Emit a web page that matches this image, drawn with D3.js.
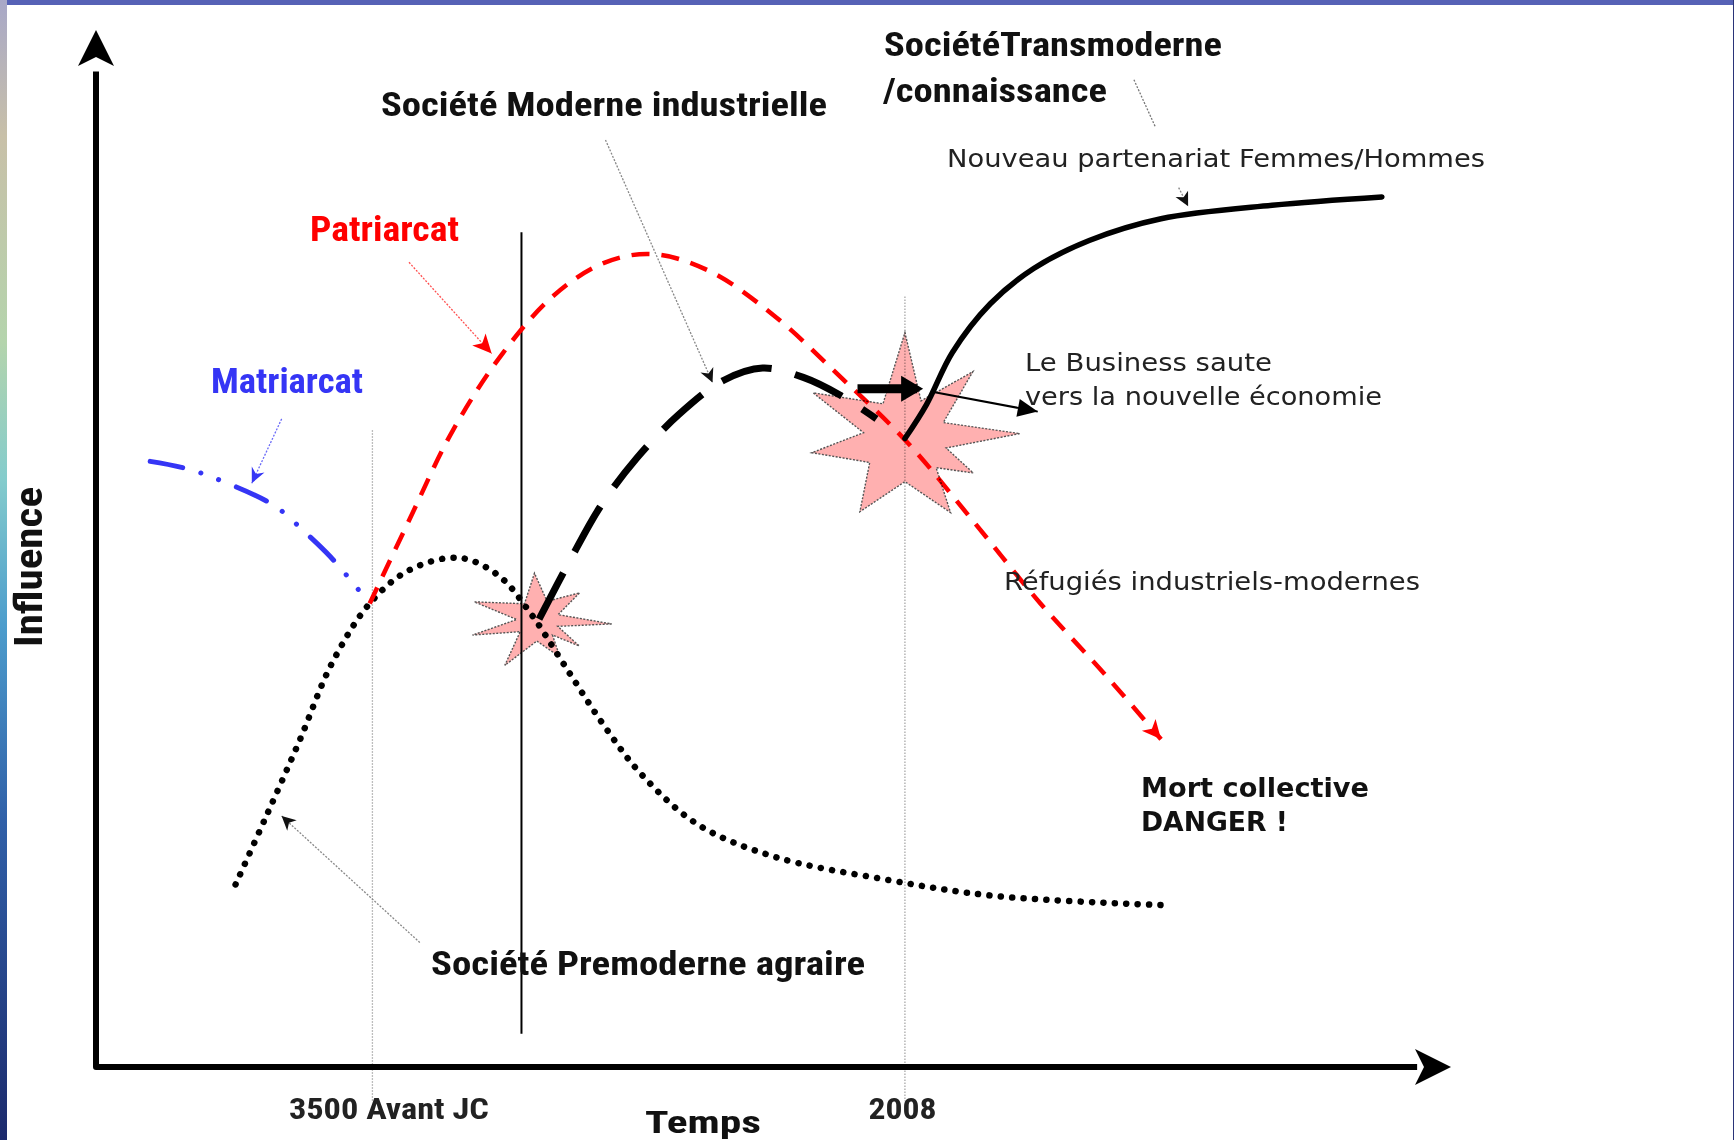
<!DOCTYPE html>
<html>
<head>
<meta charset="utf-8">
<script src="https://cdn.jsdelivr.net/npm/d3@7"></script>
<style>
    html, body { margin: 0; padding: 0; background: #4a58aa; overflow: hidden; }
    svg { display: block; }
    .narrow { font-family: "Liberation Sans Narrow", "Arial Narrow", "Roboto Condensed", "DejaVu Sans Condensed", sans-serif; font-weight: bold; }
    .verd { font-family: "DejaVu Sans", Verdana, sans-serif; }
</style>
</head>
<body>
<div id="chart"></div>
<script>
// curves (time index 0-100, influence 0-100)
const matriarcat = [[4.0,58.4],[6.7,57.7],[9.5,56.4],[13.2,54.1],[15.4,51.6],[17.3,49.2],[19.2,46.3],[20.1,44.8]];
const patriarcat = [[20.2,44.7],[23.1,52.7],[26.3,61.3],[30.0,68.8],[33.7,74.3],[37.4,77.5],[41.0,78.4],[45.2,76.8],
    [50.0,72.5],[54.9,66.6],[59.9,60.2],[64.7,52.7],[69.7,44.7],[74.5,37.8],[78.6,31.6]];
const premoderne = [[10.3,17.6],[12.5,24.0],[15.0,31.4],[17.4,38.9],[20.2,44.7],[23.1,47.9],[26.8,49.1],[29.7,47.4],
    [32.1,43.7],[34.5,38.9],[37.4,33.1],[40.2,28.3],[44.4,23.4],[50.0,20.3],[58.2,18.1],[66.3,16.5],[79.0,15.6]];
const moderne = [[32.7,43.2],[35.0,48.9],[37.2,54.0],[39.9,58.7],[43.0,62.9],[46.3,66.2],[49.2,67.4],
    [52.2,66.5],[54.9,64.8],[57.6,62.5]];
const transmoderne = [[59.7,60.6],[61.3,63.9],[63.2,68.9],[66.0,73.6],[69.2,77.0],[73.3,79.7],[78.6,81.8],[86.8,83.1],[94.9,83.9]];

// time markers on the x axis
const eraLabels = ["3500 Avant JC", "2008"];
const eraX = [20.4, 59.7];
const ruptureX = 31.4;

// crisis points (starbursts): centre and outer tips [angle deg, radius]
const crisisCentres = [[32.6, 43.1], [59.7, 60.5]];
const crisisTips = [
    [[3,74],[32,49],[59,43],[126,56],[167,67],[196,66],[266,47],[327,50]],
    [[26,76],[58,86],[122,85],[172,94],[207,103],[270,107],[315,96],[357,115]]
];
const crisisInner = [21, 42];

const W = 1734, H = 1140;
const x = d3.scaleLinear().domain([0, 100]).range([96, 1451]);
const y = d3.scaleLinear().domain([0, 100]).range([1067, 30]);

const svg = d3.select('#chart').append('svg').attr('width', W).attr('height', H);
const defs = svg.append('defs');

// frame (textured slide border)
const lg = defs.append('linearGradient').attr('id', 'leftStrip')
    .attr('x1', 0).attr('y1', 0).attr('x2', 0).attr('y2', 1);
[[0,'#a8a8c8'],[0.12,'#c8c0a8'],[0.3,'#b4d4ac'],[0.42,'#84cccc'],[0.55,'#4c9ccc'],[0.72,'#3060a8'],[1,'#1c2a6c']]
    .forEach(s => lg.append('stop').attr('offset', s[0]).attr('stop-color', s[1]));
svg.append('rect').attr('width', W).attr('height', H).attr('fill', '#5662b6');
svg.append('rect').attr('width', 7).attr('height', H).attr('fill', 'url(#leftStrip)');
svg.append('rect').attr('x', 1733).attr('width', 1).attr('height', H).attr('fill', '#2a3478');
svg.append('rect').attr('x', 7).attr('y', 5).attr('width', W - 8).attr('height', H - 5).attr('fill', '#fff');

// markers
function marker(id, path, color) {
    defs.append('marker').attr('id', id)
        .attr('markerUnits', 'userSpaceOnUse')
        .attr('viewBox', '-30 -20 40 40')
        .attr('markerWidth', 40).attr('markerHeight', 40)
        .attr('refX', 0).attr('refY', 0)
        .attr('orient', 'auto')
        .append('path').attr('d', path).attr('fill', color);
}
marker('redHead', 'M0,0 L-19,-9 L-14,0 L-19,9 Z', '#ff0000');
marker('blueHead', 'M0,0 L-15,-7 L-10,0 L-15,7 Z', '#3535f5');
marker('blackHead', 'M0,0 L-14,-7 L-10,0 L-14,7 Z', '#111');
marker('boldHead', 'M6,0 L-16,-13 L-16,13 Z', '#000');
marker('thinHead', 'M0,0 L-20,-9 L-20,9 Z', '#000');

// grey time guides and the black rupture line
const guideTop = [61.4, 74.3];
eraX.forEach((v, i) => {
    svg.append('line')
        .attr('x1', x(v)).attr('x2', x(v))
        .attr('y1', y(guideTop[i])).attr('y2', y(-3.3))
        .attr('stroke', '#a8a8a8').attr('stroke-width', 1.3).attr('stroke-dasharray', '1.5 1.5');
});
svg.append('line')
    .attr('x1', x(ruptureX)).attr('x2', x(ruptureX))
    .attr('y1', y(80.5)).attr('y2', y(3.2))
    .attr('stroke', '#000').attr('stroke-width', 2);

// axes with arrow heads
svg.append('path')
    .attr('d', `M${x(0)},${y(96)} V${y(0)} H${x(97.5)}`)
    .attr('fill', 'none').attr('stroke', '#000').attr('stroke-width', 6)
    .attr('stroke-linejoin', 'round');
svg.append('path')
    .attr('d', 'M0,0 L-36,-18 L-27,0 L-36,18 Z')
    .attr('transform', `translate(${x(0)},${y(100)}) rotate(-90)`).attr('fill', '#000');
svg.append('path')
    .attr('d', 'M0,0 L-36,-18 L-27,0 L-36,18 Z')
    .attr('transform', `translate(${x(100)},${y(0)})`).attr('fill', '#000');

const xAxis = d3.axisBottom(x).tickValues(eraX).tickSize(0).tickFormat((d, i) => eraLabels[i]);
const gx = svg.append('g').attr('transform', `translate(0,${y(0)})`).call(xAxis);
gx.select('.domain').remove();
gx.selectAll('text')
    .attr('class', 'narrow')
    .attr('y', 52).attr('dy', 0)
    .attr('dx', (d, i) => i === 0 ? 16 : -3)
    .attr('fill', '#222')
    .style('font-size', '30px')
    .attr('textLength', (d, i) => i === 0 ? 200 : 68)
    .attr('lengthAdjust', 'spacingAndGlyphs');

// curves
const line = d3.line().x(d => x(d[0])).y(d => y(d[1])).curve(d3.curveCatmullRom.alpha(0.5));

svg.append('path').datum(premoderne).attr('d', line)
    .attr('fill', 'none').attr('stroke', '#000').attr('stroke-width', 6.5)
    .attr('stroke-linecap', 'round').attr('stroke-dasharray', '0.1 11.3');

svg.append('path').datum(matriarcat).attr('d', line)
    .attr('fill', 'none').attr('stroke', '#3535f5').attr('stroke-width', 5)
    .attr('stroke-linecap', 'round').attr('stroke-dasharray', '33 19 0.1 19 0.1 19');

svg.append('path').datum(patriarcat).attr('d', line)
    .attr('fill', 'none').attr('stroke', '#ff0000').attr('stroke-width', 4.5)
    .attr('stroke-dasharray', '18 12').attr('marker-end', 'url(#redHead)');

svg.append('path').datum(moderne).attr('d', line)
    .attr('fill', 'none').attr('stroke', '#000').attr('stroke-width', 7)
    .attr('stroke-dasharray', '52 24');

svg.append('path').datum(transmoderne).attr('d', line)
    .attr('fill', 'none').attr('stroke', '#000').attr('stroke-width', 5.5)
    .attr('stroke-linecap', 'round');

// starbursts
crisisCentres.forEach((c, k) => {
    const tips = crisisTips[k];
    const pts = [];
    tips.forEach((t, i) => {
        const next = tips[(i + 1) % tips.length];
        let a2 = next[0];
        if (a2 < t[0]) a2 += 360;
        const mid = (t[0] + a2) / 2 * Math.PI / 180;
        const a = t[0] * Math.PI / 180;
        pts.push([x(c[0]) + t[1] * Math.cos(a), y(c[1]) + t[1] * Math.sin(a)]);
        pts.push([x(c[0]) + crisisInner[k] * Math.cos(mid), y(c[1]) + crisisInner[k] * Math.sin(mid)]);
    });
    svg.append('path')
        .attr('d', 'M' + pts.map(p => p.join(',')).join('L') + 'Z')
        .attr('fill', '#ffb0b0')
        .attr('stroke', '#555').attr('stroke-width', 1.4).attr('stroke-dasharray', '2 1.5')
        .style('mix-blend-mode', 'multiply');
});

// business arrows
svg.append('line')
    .attr('x1', x(56.2)).attr('y1', y(65.4)).attr('x2', x(60.6)).attr('y2', y(65.4))
    .attr('stroke', '#000').attr('stroke-width', 9).attr('marker-end', 'url(#boldHead)');
svg.append('line')
    .attr('x1', x(61.8)).attr('y1', y(65.1)).attr('x2', x(69.5)).attr('y2', y(63.2))
    .attr('stroke', '#000').attr('stroke-width', 2).attr('marker-end', 'url(#thinHead)');

// leader lines from labels
function leader(a, b, color, head) {
    svg.append('line')
        .attr('x1', x(a[0])).attr('y1', y(a[1])).attr('x2', x(b[0])).attr('y2', y(b[1]))
        .attr('stroke', color).attr('stroke-width', 1.3).attr('stroke-dasharray', '2 1.5')
        .attr('marker-end', head ? `url(#${head})` : null);
}
leader([13.7, 62.5], [11.5, 56.3], '#6a6af8', 'blueHead');
leader([23.1, 77.6], [29.2, 68.8], '#ff5050', 'redHead');
leader([37.6, 89.4], [45.5, 66.0], '#888', 'blackHead');
leader([76.6, 95.2], [78.2, 90.6], '#777', null);
leader([79.9, 84.8], [80.6, 83.0], '#888', 'blackHead');
leader([23.9, 12.0], [13.7, 24.2], '#888', 'blackHead');

// labels
function label(txt, px, py, cls, size, len, color, weight) {
    return svg.append('text')
        .attr('x', px).attr('y', py)
        .attr('class', cls)
        .style('font-size', size + 'px')
        .style('font-weight', weight || null)
        .attr('fill', color || '#111')
        .attr('textLength', len).attr('lengthAdjust', 'spacingAndGlyphs')
        .text(txt);
}
label('Société Moderne industrielle', 381, 116, 'narrow', 34, 446);
label('SociétéTransmoderne', 884, 56, 'narrow', 33, 338);
label('/connaissance', 883, 102, 'narrow', 33, 224);
label('Nouveau partenariat Femmes/Hommes', 947, 167, 'verd', 25, 538, '#222');
label('Patriarcat', 310, 241, 'narrow', 35, 149, '#ff0000');
label('Matriarcat', 211, 393, 'narrow', 35, 152, '#3535f5');
label('Le Business saute', 1025, 371, 'verd', 25, 247, '#222');
label('vers la nouvelle économie', 1025, 405, 'verd', 25, 357, '#222');
label('Réfugiés industriels-modernes', 1004, 590, 'verd', 25, 416, '#222');
label('Mort collective', 1141, 797, 'verd', 26, 228, '#111', 'bold');
label('DANGER !', 1141, 831, 'verd', 26, 147, '#111', 'bold');
label('Société Premoderne agraire', 431, 975, 'narrow', 34, 434);

svg.append('text')
    .attr('class', 'narrow')
    .attr('transform', 'translate(42,567) rotate(-90)')
    .attr('text-anchor', 'middle')
    .style('font-size', '38px')
    .attr('fill', '#111')
    .attr('textLength', 160).attr('lengthAdjust', 'spacingAndGlyphs')
    .text('Influence');

svg.append('text')
    .attr('class', 'narrow')
    .attr('x', 703).attr('y', 1133)
    .attr('text-anchor', 'middle')
    .style('font-size', '32px')
    .attr('fill', '#111')
    .attr('textLength', 116).attr('lengthAdjust', 'spacingAndGlyphs')
    .text('Temps');
</script>
</body>
</html>
